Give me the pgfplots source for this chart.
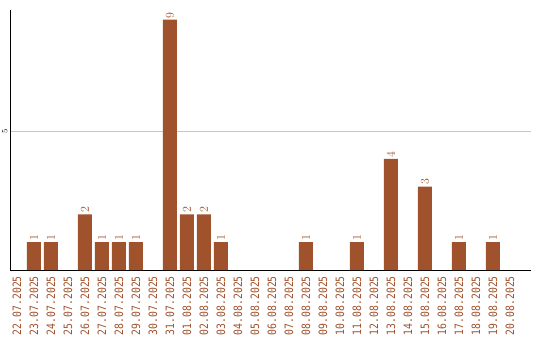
\documentclass[border=0pt]{standalone}
\usepackage{pgfplots}
\pgfplotsset{compat=1.18}
\usepackage{fontspec}
\newfontfamily\mono[FakeStretch=0.85]{DejaVu Sans Mono}
\definecolor{barc}{HTML}{A0522D}
\begin{document}
\begin{tikzpicture}[x=1pt,y=1pt]
\useasboundingbox (0,0) rectangle (540,340);
\begin{axis}[
  at={(10pt,70pt)}, anchor=south west,
  scale only axis, width=521pt, height=260pt,
  xmin=-0.41, xmax=30.24, ymin=0, ymax=9.35,
  axis x line*=bottom, axis y line*=left,
  axis line style={black, line width=0.9pt},
  ytick={5}, ymajorgrids, grid style={color=black!22, line width=0.7pt},
  xtick={0,...,29},
  xticklabels={22.07.2025,23.07.2025,24.07.2025,25.07.2025,26.07.2025,27.07.2025,28.07.2025,29.07.2025,30.07.2025,31.07.2025,01.08.2025,02.08.2025,03.08.2025,04.08.2025,05.08.2025,06.08.2025,07.08.2025,08.08.2025,09.08.2025,10.08.2025,11.08.2025,12.08.2025,13.08.2025,14.08.2025,15.08.2025,16.08.2025,17.08.2025,18.08.2025,19.08.2025,20.08.2025},
  major tick length=0,
  xticklabel style={rotate=90, anchor=east, inner sep=0pt, font=\mono\fontsize{11.5}{12}\selectfont, text=barc},
  xticklabel shift=6pt,
  yticklabel style={rotate=90, anchor=south, inner sep=0pt, font=\mono\fontsize{8.5}{9}\selectfont, text=black},
  yticklabel shift=2.5pt,
  clip=false,
]
\addplot[ybar, bar width=14pt, fill=barc, draw=none,
  nodes near coords,
  every node near coord/.style={rotate=90, anchor=west, inner sep=0pt, xshift=1.5pt, font=\mono\fontsize{12}{13}\selectfont, text=barc}]
coordinates {(1,1) (2,1) (4,2) (5,1) (6,1) (7,1) (9,9) (10,2) (11,2) (12,1) (17,1) (20,1) (22,4) (24,3) (26,1) (28,1)};
\end{axis}
\end{tikzpicture}
\end{document}
